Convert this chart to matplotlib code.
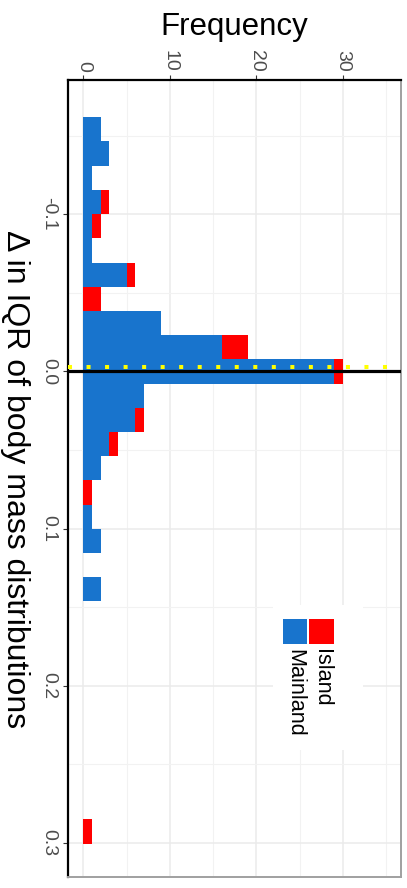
import numpy as np
import matplotlib
matplotlib.use('Agg')
import matplotlib.pyplot as plt
from matplotlib.patches import Rectangle

plt.rcParams['font.family'] = ['Liberation Sans', 'DejaVu Sans']

# ── Histogram counts (bin midpoints of Δ IQR, stacked Mainland + Island) ─────
delta_mid = [-0.154, -0.1386, -0.1232, -0.1078, -0.0924, -0.077, -0.0616,
             -0.0462, -0.0308, -0.0154, 0.0, 0.0154, 0.0308, 0.0462, 0.0616,
             0.077, 0.0924, 0.1078, 0.1232, 0.1386, 0.2926]
mainland = [2, 3, 1, 2, 1, 1, 5, 0, 9, 16, 29, 7, 6, 3, 2, 0, 1, 2, 0, 2, 0]
island   = [0, 0, 0, 1, 1, 0, 1, 2, 0, 3, 1, 0, 1, 1, 0, 1, 0, 0, 0, 0, 1]
BIN_WIDTH = 0.0154
MEAN_DELTA = -0.003

freq_ticks = [0, 10, 20, 30]
delta_ticks = [-0.1, 0.0, 0.1, 0.2, 0.3]
delta_labels = ['-0.1', '0.0', '0.1', '0.2', '0.3']

BLUE = '#1874CD'
RED = '#FF0000'

W, H = 407, 888
fig = plt.figure(figsize=(W / 100, H / 100), dpi=100)
ax = fig.add_axes([68 / W, (H - 877) / H, 333 / W, 797 / H])

# plot is drawn sideways: frequency runs across, Δ runs down
ax.barh(delta_mid, mainland, height=BIN_WIDTH, color=BLUE, zorder=2)
ax.barh(delta_mid, island, left=mainland, height=BIN_WIDTH, color=RED, zorder=2)

ax.axhline(0, color='black', lw=2.3, zorder=3)
ax.axhline(MEAN_DELTA, color='#FFFF00', lw=2.9, linestyle=(0, (1, 3.6)),
           zorder=4)

ax.set_xlim(-1.77, 36.73)
ax.set_ylim(0.3216, -0.1854)

ax.set_xticks(freq_ticks)
ax.set_xticks([5, 15, 25, 35], minor=True)
ax.set_yticks(delta_ticks)
ax.set_yticklabels(delta_labels)
ax.set_yticks([-0.15, -0.05, 0.05, 0.15, 0.25], minor=True)

ax.set_axisbelow(True)
ax.grid(which='major', color='#EBEBEB', lw=1.1)
ax.grid(which='minor', color='#F2F2F2', lw=0.8)

ax.xaxis.tick_top()
ax.tick_params(axis='both', which='minor', length=0)
ax.tick_params(axis='x', which='major', length=3.6, width=0.8, color='#333333',
               pad=2, labelsize=14, labelcolor='#4D4D4D', labelrotation=-90)
ax.tick_params(axis='y', which='major', length=3.6, width=0.8, color='#333333',
               pad=4, labelsize=14, labelcolor='#4D4D4D', labelrotation=-90)
for lbl in ax.get_yticklabels():
    lbl.set_va('center')

for side in ('left', 'top'):
    ax.spines[side].set_color('black')
    ax.spines[side].set_linewidth(1.6)
for side in ('right', 'bottom'):
    ax.spines[side].set_color('#A0A0A0')
    ax.spines[side].set_linewidth(1.4)

fig.text(234.5 / W, 1 - 27 / H, 'Frequency', fontsize=22.5, ha='center',
         va='center')
fig.text(15 / W, 1 - 479 / H, 'Δ in IQR of body mass distributions',
         fontsize=23, rotation=-90, ha='center', va='center')


# legend drawn by hand so its labels can run sideways like the rest
def fx(px):
    return (px - 68) / 333


def fy(py):
    return (877 - py) / 797


ax.add_patch(Rectangle((fx(273), fy(750)), fx(363) - fx(273), fy(605) - fy(750),
                       transform=ax.transAxes, facecolor='white',
                       edgecolor='none', zorder=5))
for x0, col, name in [(282.7, BLUE, 'Mainland'), (309.3, RED, 'Island')]:
    ax.add_patch(Rectangle((fx(x0), fy(644)), fx(x0 + 24.7) - fx(x0),
                           fy(619.3) - fy(644), transform=ax.transAxes,
                           facecolor=col, edgecolor='none', zorder=6))
    ax.text(fx(x0 + 12.5), fy(649), name, transform=ax.transAxes,
            fontsize=15.6, rotation=-90, ha='center', va='top', zorder=7)

fig.savefig('out.png', dpi=100)
